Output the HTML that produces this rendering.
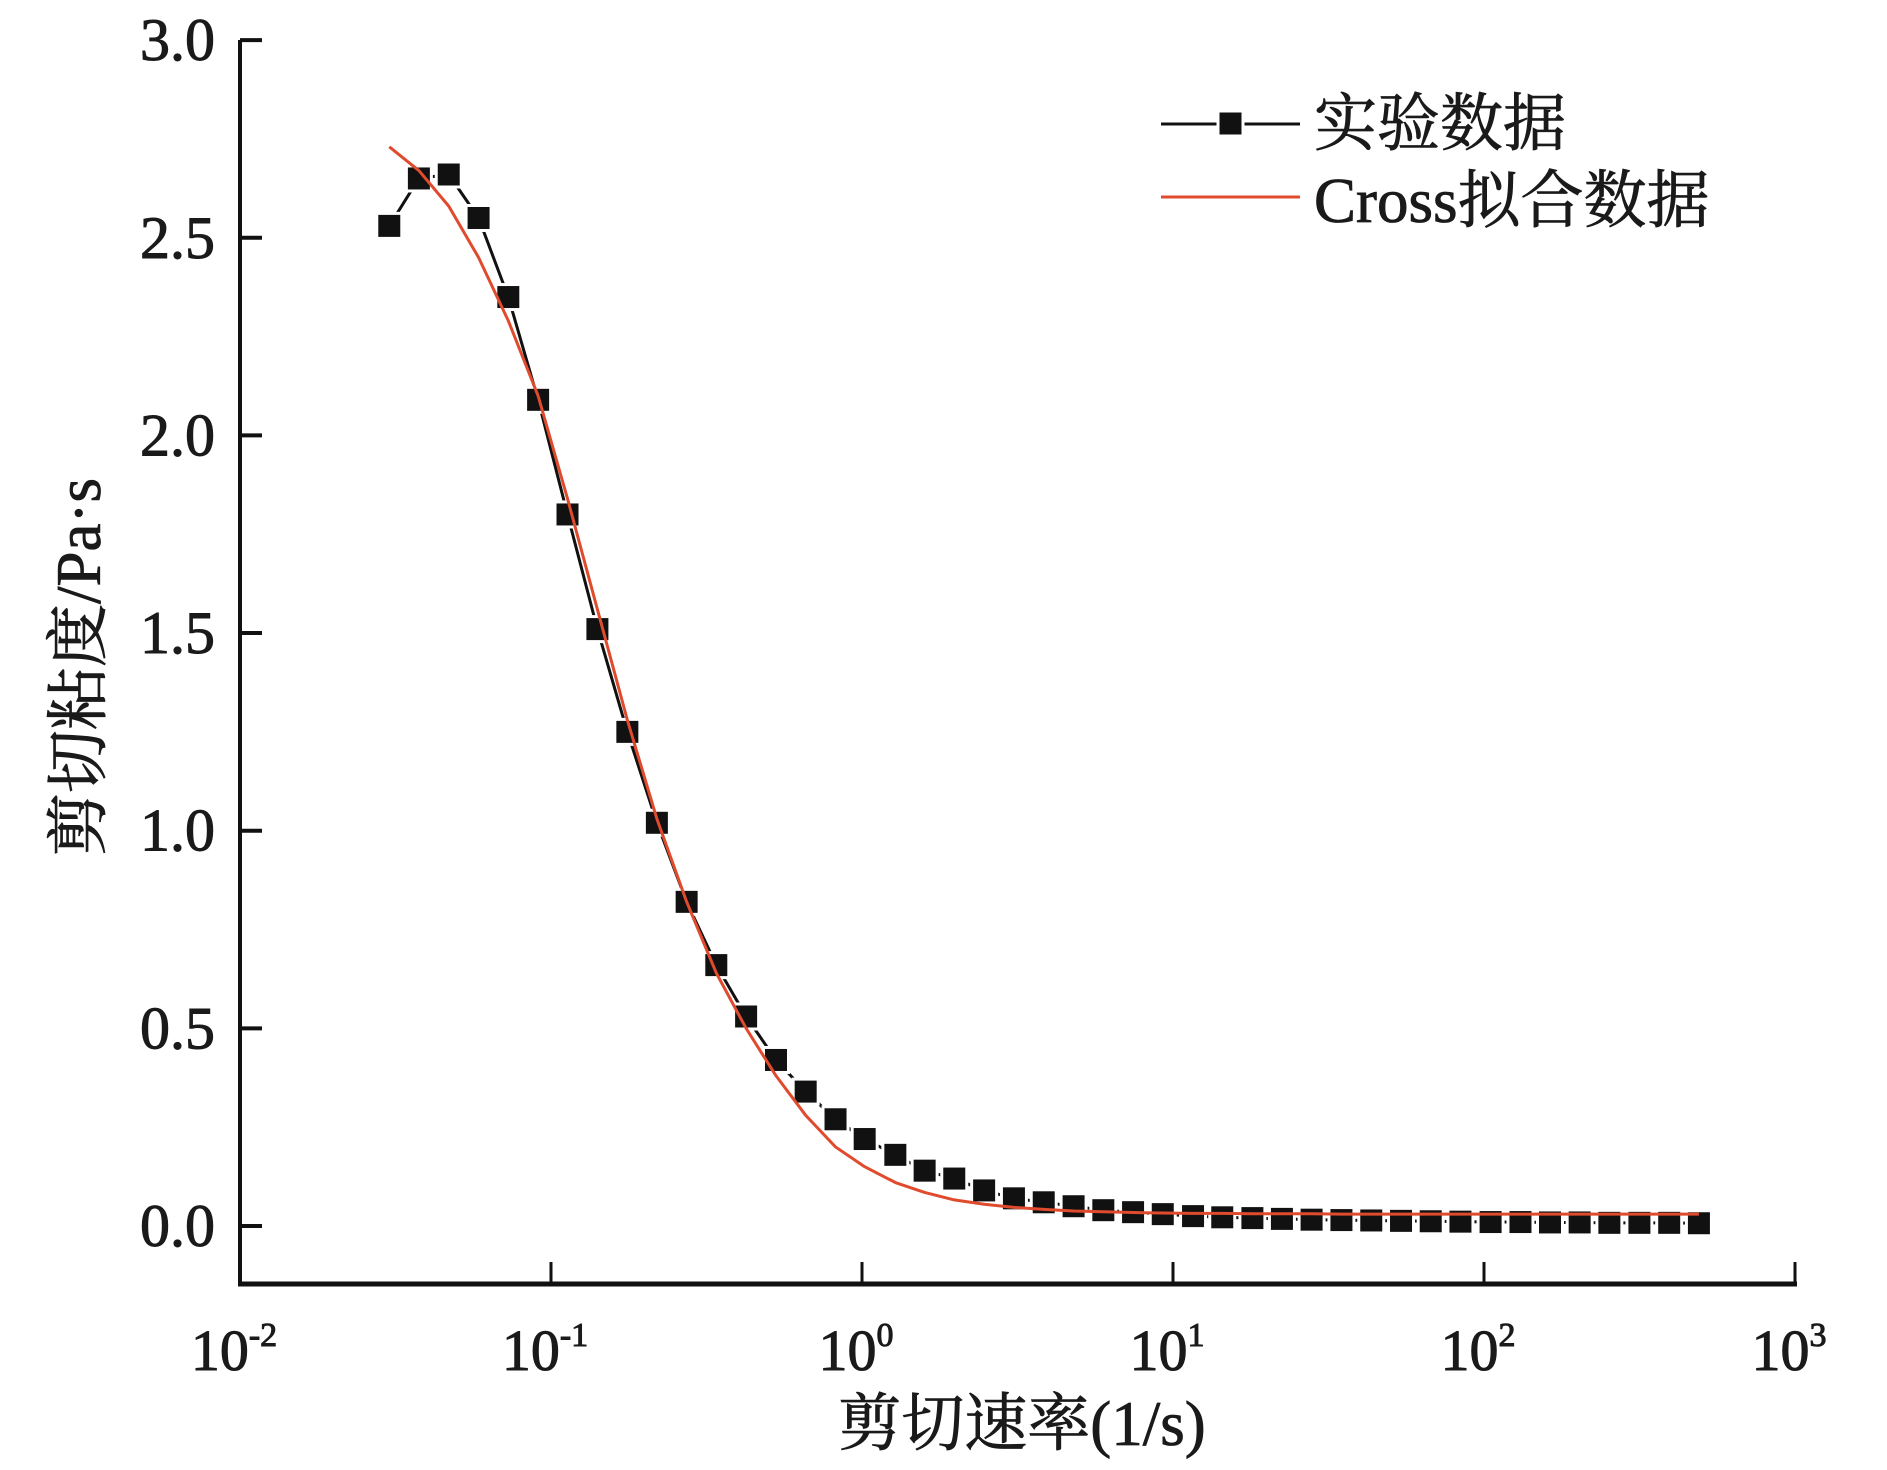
<!DOCTYPE html>
<html><head><meta charset="utf-8"><style>
html,body{margin:0;padding:0;background:#fff;}
svg text{font-family:"Liberation Serif","Noto Serif CJK SC",serif;fill:#1a1a1a;}
</style></head><body>
<svg id="chart" width="1887" height="1465" viewBox="0 0 1887 1465" xmlns="http://www.w3.org/2000/svg">
<g id="axes"></g>
<g id="series"></g>
<g id="legend">
  <line x1="1161" y1="124" x2="1300" y2="124" stroke="#111" stroke-width="3"/>
  <rect x="1218" y="111" width="25" height="25" fill="#111" stroke="#fff" stroke-width="3"/>
  <text x="1314" y="145" font-size="63" stroke="#1a1a1a" stroke-width="0.8">实验数据</text>
  <line x1="1161" y1="197" x2="1300" y2="197" stroke="#e04b2e" stroke-width="3"/>
  <text x="1314" y="222" font-size="63" stroke="#1a1a1a" stroke-width="0.8">Cross拟合数据</text>
</g>
</svg>
<script>
const xVals=[0.0302,0.0376,0.0469,0.0585,0.0729,0.0909,0.113,0.141,0.176,0.219,0.273,0.340,0.424,0.529,0.659,0.822,1.02,1.28,1.59,1.98,2.47,3.08,3.84,4.79,5.97,7.44,9.27,11.6,14.4,18.0,22.4,27.9,34.8,43.4,54.1,67.4,84.0,105,131,163,203,253,316,394,491];
const expVals=[2.53,2.65,2.66,2.55,2.35,2.09,1.80,1.51,1.25,1.02,0.82,0.66,0.53,0.42,0.34,0.27,0.22,0.18,0.14,0.12,0.09,0.07,0.06,0.05,0.04,0.035,0.03,0.025,0.022,0.02,0.018,0.016,0.015,0.014,0.013,0.012,0.011,0.010,0.010,0.009,0.009,0.008,0.008,0.008,0.007];
const fitVals=[2.73,2.67,2.58,2.45,2.29,2.10,1.84,1.56,1.28,1.03,0.82,0.64,0.50,0.38,0.28,0.20,0.15,0.11,0.085,0.066,0.055,0.047,0.042,0.038,0.036,0.034,0.033,0.032,0.032,0.031,0.031,0.031,0.03,0.03,0.03,0.03,0.03,0.03,0.03,0.03,0.03,0.03,0.03,0.03,0.03];
const yTicks=[0.0,0.5,1.0,1.5,2.0,2.5,3.0];
const yTickLabels=["0.0","0.5","1.0","1.5","2.0","2.5","3.0"];
const xTickExps=[-2,-1,0,1,2,3];

const NS="http://www.w3.org/2000/svg";
const X0=240,DEC=311,Y0=1226,YU=395.3;
function sx(v){return X0+(Math.log10(v)+2)*DEC;}
function sy(v){return Y0-v*YU;}
function mk(tag,attrs,parent){const e=document.createElementNS(NS,tag);for(const k in attrs)e.setAttribute(k,attrs[k]);parent.appendChild(e);return e;}
const axes=document.getElementById('axes'),ser=document.getElementById('series');
let a=mk('line',{x1:240,y1:40,x2:240,y2:1286,stroke:'#111','stroke-width':4},axes);


a=mk('line',{x1:238,y1:1284,x2:1797,y2:1284,stroke:'#111','stroke-width':5},axes);


yTicks.forEach((t,i)=>{
  const y=sy(t);
  let l=mk('line',{x1:240,y1:y,x2:262,y2:y,stroke:'#111','stroke-width':4},axes);
  
  
  let tx=mk('text',{x:215,y:y+20,'font-size':60,'text-anchor':'end',stroke:'#1a1a1a','stroke-width':1},axes);
  tx.textContent=yTickLabels[i];
  
  
});
xTickExps.forEach(e=>{
  const x=sx(Math.pow(10,e));
  let l=mk('line',{x1:x,y1:1262,x2:x,y2:1284,stroke:'#111','stroke-width':3},axes);
  
  
  let tx=mk('text',{x:x-6,y:1370,'font-size':58,'text-anchor':'middle',stroke:'#1a1a1a','stroke-width':1},axes);
  tx.textContent='10';
  const sp=document.createElementNS(NS,'tspan');sp.setAttribute('dy','-24');sp.setAttribute('font-size','34');sp.textContent=e<0?('-'+(-e)):String(e);tx.appendChild(sp);
  
  
});
let t=mk('text',{x:1022,y:1445,'font-size':63,'text-anchor':'middle',stroke:'#1a1a1a','stroke-width':0.8},axes);
t.textContent='剪切速率(1/s)';


t=mk('text',{x:0,y:0,'font-size':63,'text-anchor':'middle',stroke:'#1a1a1a','stroke-width':0.8,transform:'translate(100,667) rotate(-90)'},axes);
t.textContent='剪切粘度/Pa·s';



let p=mk('polyline',{points:xVals.map((x,i)=>sx(x)+','+sy(expVals[i])).join(' '),fill:'none',stroke:'#111','stroke-width':3},ser);


xVals.forEach((x,i)=>{
  let r=mk('rect',{x:sx(x)-12.5,y:sy(expVals[i])-12.5,width:25,height:25,fill:'#111',stroke:'#fff','stroke-width':3},ser);
  
  
});
p=mk('polyline',{points:xVals.map((x,i)=>sx(x)+','+sy(fitVals[i])).join(' '),fill:'none',stroke:'#e04b2e','stroke-width':3,'stroke-linejoin':'round'},ser);


</script>
</body></html>
